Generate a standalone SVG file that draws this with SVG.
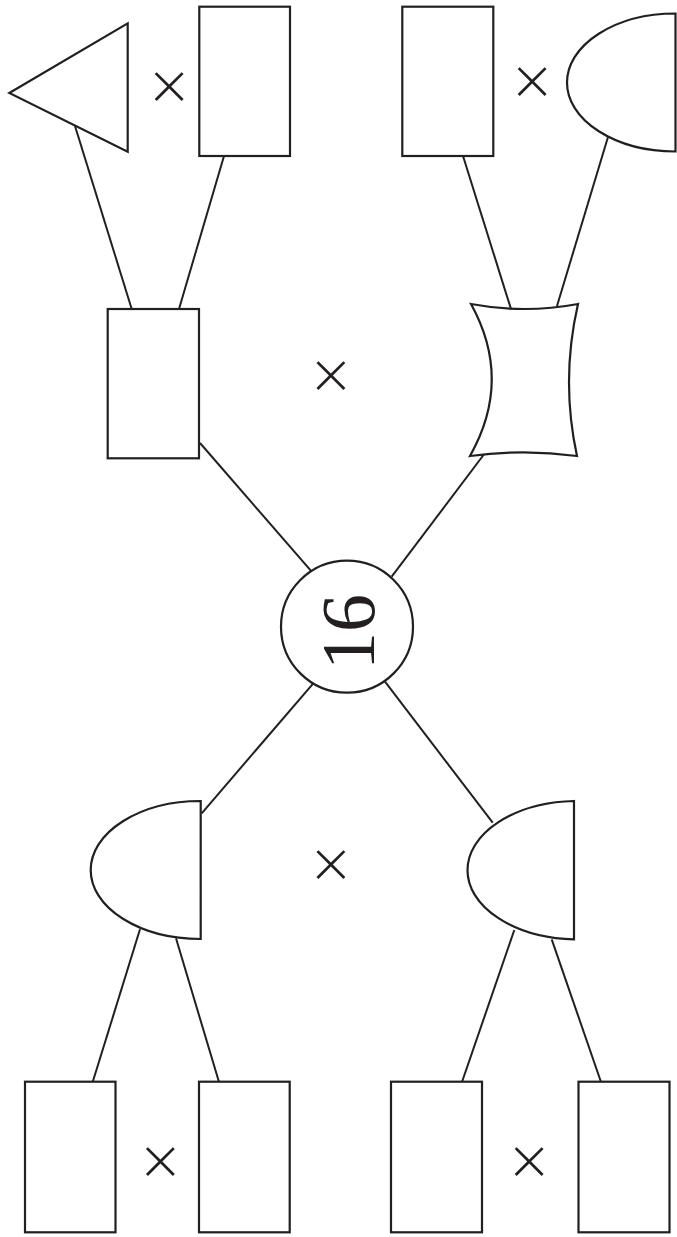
<svg xmlns="http://www.w3.org/2000/svg" width="677" height="1237" viewBox="0 0 677 1237">
<style>
.s{fill:#fff;stroke:#231f20;stroke-width:2.2}
.c line{stroke:#231f20;stroke-width:2}
.x{font-family:Inter,"Liberation Sans",sans-serif;font-weight:200;font-size:67px;fill:#231f20;text-anchor:middle}
.n{font-family:"Liberation Serif","Times New Roman",serif;font-size:76px;fill:#231f20;text-anchor:middle}
</style>
<rect width="677" height="1237" fill="#fff"/>
<g class="c" id="connectors">
<line x1="75" y1="126" x2="131.7" y2="309"/>
<line x1="224" y1="156" x2="179" y2="309"/>
<line x1="463" y1="156" x2="511" y2="309"/>
<line x1="608" y1="137" x2="557" y2="306"/>
<line x1="200" y1="443" x2="311.7" y2="571.7"/>
<line x1="485" y1="453" x2="391.7" y2="576.7"/>
<line x1="313.3" y1="683.3" x2="201.7" y2="813.3"/>
<line x1="385" y1="681.7" x2="492.7" y2="822.7"/>
<line x1="140" y1="929.3" x2="92.7" y2="1082"/>
<line x1="176" y1="938.3" x2="219" y2="1082"/>
<line x1="514.3" y1="930" x2="462" y2="1082"/>
<line x1="551.7" y1="939.3" x2="601" y2="1082"/>
</g>
<g id="triangle"><polygon class="s" points="9.3,93 127.7,23.3 127.7,151.7"/></g>
<g id="rect-top-left"><rect class="s" x="199.3" y="6.7" width="90.7" height="149.3"/></g>
<g id="rect-top-right"><rect class="s" x="402.3" y="6.7" width="91" height="149.3"/></g>
<g id="d-top-right"><path class="s" d="M675.5,13.5 A108.5,69 0 0 0 675.5,151.5 Z"/></g>
<g id="rect-mid-left"><rect class="s" x="107.7" y="309" width="91.3" height="149.3"/></g>
<g id="concave-mid-right"><path class="s" d="M471,304 Q524.5,314 578,304 Q560.5,380 577,456 Q523.5,448.6 470,456 Q513,380 471,304 Z"/></g>
<g id="circle-16"><circle class="s" cx="347" cy="626.7" r="66"/><text class="n" transform="translate(374,632) rotate(-90)" x="0" y="0">16</text></g>
<g id="d-bottom-left"><path class="s" d="M200.7,801 A110,69 0 0 0 200.7,939 Z"/></g>
<g id="d-bottom-right"><path class="s" d="M574,801 A110.7,69.2 0 0 0 574,939.3 Z"/></g>
<g id="rect-b1"><rect class="s" x="25" y="1081.7" width="90.5" height="150.6"/></g>
<g id="rect-b2"><rect class="s" x="199" y="1081.7" width="90.7" height="150.6"/></g>
<g id="rect-b3"><rect class="s" x="391" y="1081.7" width="91" height="150.6"/></g>
<g id="rect-b4"><rect class="s" x="578.5" y="1081.7" width="91" height="150.6"/></g>
<g id="times">
<text class="x" x="169" y="106">×</text>
<text class="x" x="532" y="100.5">×</text>
<text class="x" x="330.8" y="395">×</text>
<text class="x" x="330.8" y="883.5">×</text>
<text class="x" x="160.3" y="1180.5">×</text>
<text class="x" x="529" y="1180.5">×</text>
</g>
</svg>
